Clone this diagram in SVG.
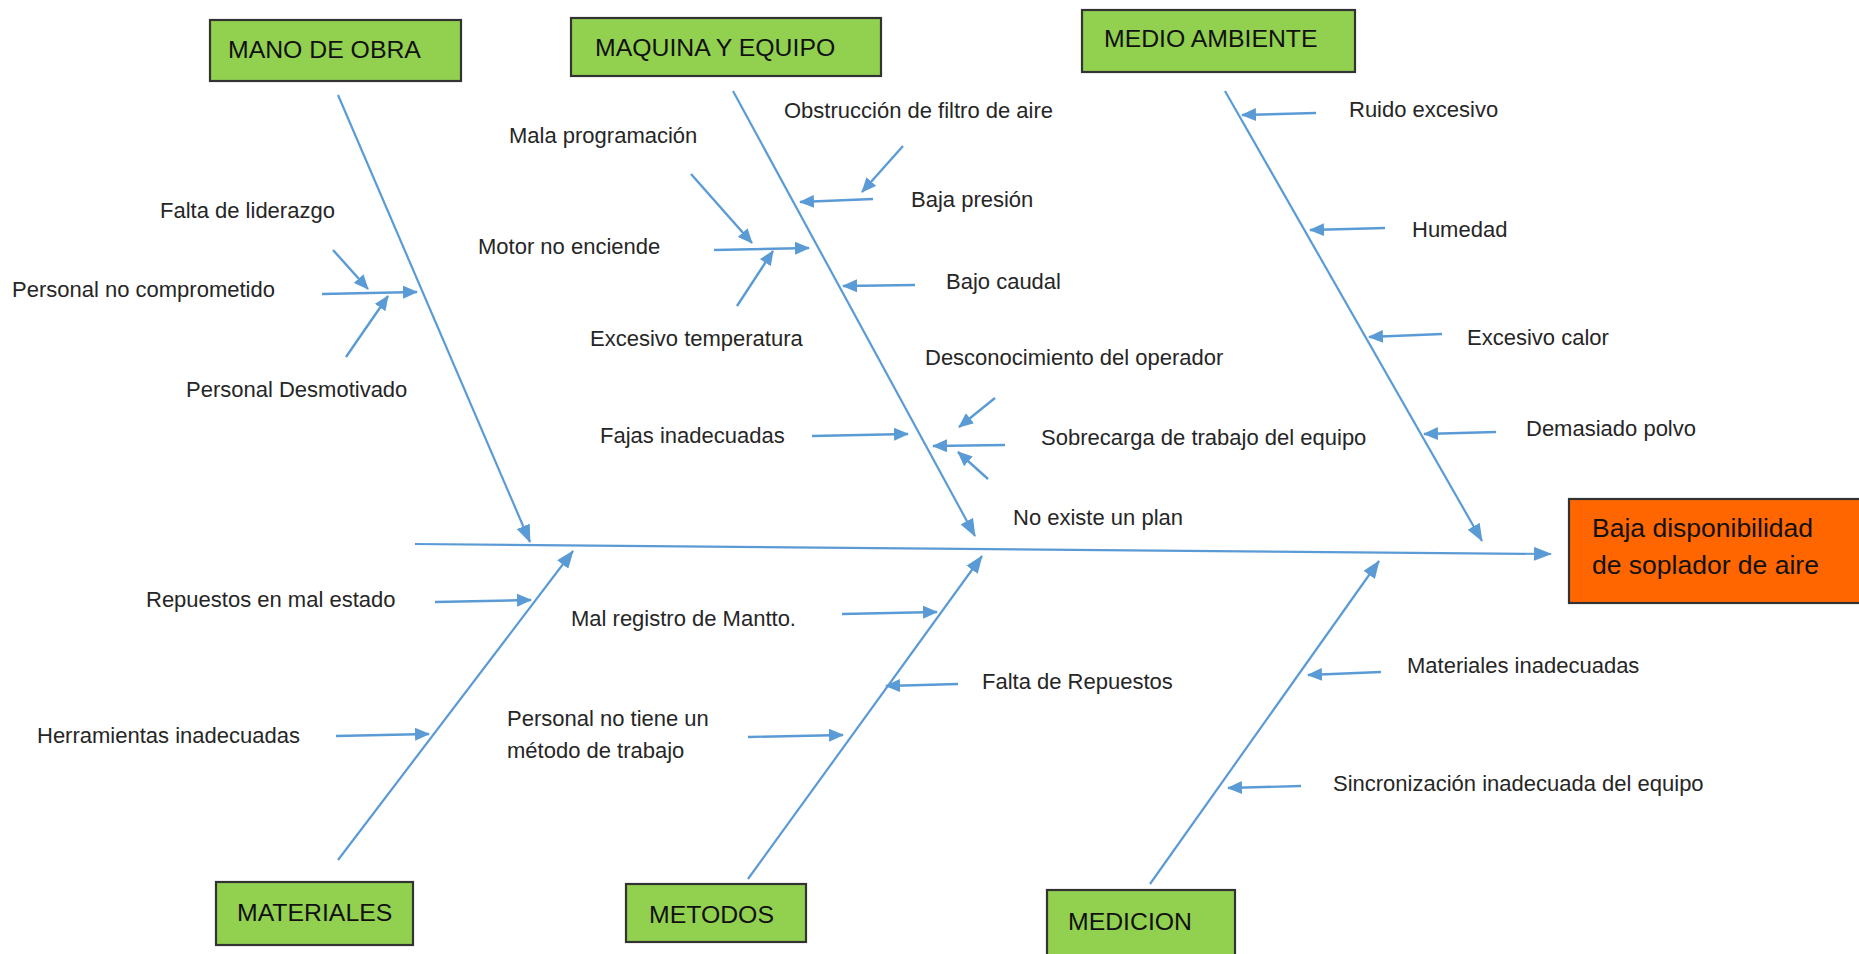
<svg xmlns="http://www.w3.org/2000/svg" width="1859" height="954" viewBox="0 0 1859 954">
<style>
.box{fill:#92D050;stroke:#333;stroke-width:2.2}
.eff{fill:#FF6600;stroke:#333;stroke-width:2.2}
.bt{font-family:"Liberation Sans",Arial,sans-serif;font-size:24.8px;fill:#111}
.et{font-family:"Liberation Sans",Arial,sans-serif;font-size:26.5px;fill:#111}
.lb{font-family:"Liberation Sans",Arial,sans-serif;font-size:22px;fill:#262626}
.bone{stroke:#5B9BD5;stroke-width:2.2;fill:none}
.sub{stroke:#5B9BD5;stroke-width:2.4;fill:none;marker-end:url(#ah)}
</style>
<defs>
<marker id="ah" markerUnits="userSpaceOnUse" markerWidth="15" markerHeight="13" refX="14" refY="6.5" orient="auto">
<path d="M0,0 L15,6.5 L0,13 z" fill="#5B9BD5"/>
</marker>
<marker id="ahb" markerUnits="userSpaceOnUse" markerWidth="18" markerHeight="14" refX="17" refY="7" orient="auto">
<path d="M0,0 L18,7 L0,14 z" fill="#5B9BD5"/>
</marker>
</defs>
<rect width="1859" height="954" fill="#fff"/>

<g id="connectors">
<line class="bone" x1="415" y1="544" x2="1551" y2="554" marker-end="url(#ahb)"/>
<line class="bone" x1="338" y1="95" x2="530" y2="542" marker-end="url(#ahb)"/>
<line class="bone" x1="733" y1="91" x2="975" y2="536" marker-end="url(#ahb)"/>
<line class="bone" x1="1225" y1="91" x2="1482" y2="541" marker-end="url(#ahb)"/>
<line class="bone" x1="338" y1="860" x2="573" y2="551" marker-end="url(#ahb)"/>
<line class="bone" x1="748" y1="879" x2="982" y2="556" marker-end="url(#ahb)"/>
<line class="bone" x1="1150" y1="884" x2="1379" y2="561" marker-end="url(#ahb)"/>

<line class="sub" x1="322" y1="294" x2="417" y2="292"/>
<line class="sub" x1="333" y1="250" x2="368" y2="289"/>
<line class="sub" x1="346" y1="357" x2="388" y2="296"/>

<line class="sub" x1="691" y1="174" x2="752" y2="243"/>
<line class="sub" x1="714" y1="250" x2="809" y2="248"/>
<line class="sub" x1="737" y1="306" x2="773" y2="251"/>
<line class="sub" x1="903" y1="146" x2="862" y2="192"/>
<line class="sub" x1="873" y1="199" x2="800" y2="202"/>
<line class="sub" x1="915" y1="285" x2="843" y2="286"/>
<line class="sub" x1="812" y1="436" x2="908" y2="434"/>
<line class="sub" x1="995" y1="398" x2="959" y2="427"/>
<line class="sub" x1="1005" y1="445" x2="933" y2="446"/>
<line class="sub" x1="988" y1="479" x2="958" y2="452"/>

<line class="sub" x1="1316" y1="113" x2="1242" y2="115"/>
<line class="sub" x1="1385" y1="228" x2="1310" y2="230"/>
<line class="sub" x1="1442" y1="334" x2="1369" y2="337"/>
<line class="sub" x1="1496" y1="432" x2="1424" y2="434"/>

<line class="sub" x1="435" y1="602" x2="531" y2="600"/>
<line class="sub" x1="336" y1="736" x2="429" y2="734"/>

<line class="sub" x1="842" y1="614" x2="937" y2="612"/>
<line class="sub" x1="958" y1="684" x2="886" y2="686"/>
<line class="sub" x1="748" y1="737" x2="843" y2="735"/>

<line class="sub" x1="1381" y1="672" x2="1308" y2="675"/>
<line class="sub" x1="1301" y1="786" x2="1228" y2="788"/>
</g>

<g id="mano-de-obra">
<rect class="box" x="210" y="20" width="251" height="61"/>
<text class="bt" x="228" y="58">MANO DE OBRA</text>
</g>
<g id="maquina-y-equipo">
<rect class="box" x="571" y="18" width="310" height="58"/>
<text class="bt" x="595" y="56">MAQUINA Y EQUIPO</text>
</g>
<g id="medio-ambiente">
<rect class="box" x="1082" y="10" width="273" height="62"/>
<text class="bt" x="1104" y="47">MEDIO AMBIENTE</text>
</g>
<g id="materiales">
<rect class="box" x="216" y="882" width="197" height="63"/>
<text class="bt" x="237" y="921">MATERIALES</text>
</g>
<g id="metodos">
<rect class="box" x="626" y="884" width="180" height="58"/>
<text class="bt" x="649" y="923">METODOS</text>
</g>
<g id="medicion">
<rect class="box" x="1047" y="890" width="188" height="80"/>
<text class="bt" x="1068" y="930">MEDICION</text>
</g>
<g id="efecto">
<rect class="eff" x="1569" y="499" width="300" height="104"/>
<text class="et" x="1592" y="537">Baja disponibilidad</text>
<text class="et" x="1592" y="574">de soplador de aire</text>
</g>

<g id="causas-mano-de-obra">
<text class="lb" x="160" y="218">Falta de liderazgo</text>
<text class="lb" x="12" y="297">Personal no comprometido</text>
<text class="lb" x="186" y="397">Personal Desmotivado</text>
</g>
<g id="causas-maquina">
<text class="lb" x="509" y="143">Mala programación</text>
<text class="lb" x="784" y="118">Obstrucción de filtro de aire</text>
<text class="lb" x="478" y="254">Motor no enciende</text>
<text class="lb" x="911" y="207">Baja presión</text>
<text class="lb" x="946" y="289">Bajo caudal</text>
<text class="lb" x="590" y="346">Excesivo temperatura</text>
<text class="lb" x="925" y="365">Desconocimiento del operador</text>
<text class="lb" x="600" y="443">Fajas inadecuadas</text>
<text class="lb" x="1041" y="445">Sobrecarga de trabajo del equipo</text>
<text class="lb" x="1013" y="525">No existe un plan</text>
</g>
<g id="causas-medio-ambiente">
<text class="lb" x="1349" y="117">Ruido excesivo</text>
<text class="lb" x="1412" y="237">Humedad</text>
<text class="lb" x="1467" y="345">Excesivo calor</text>
<text class="lb" x="1526" y="436">Demasiado polvo</text>
</g>
<g id="causas-materiales">
<text class="lb" x="146" y="607">Repuestos en mal estado</text>
<text class="lb" x="37" y="743">Herramientas inadecuadas</text>
</g>
<g id="causas-metodos">
<text class="lb" x="571" y="626">Mal registro de Mantto.</text>
<text class="lb" x="982" y="689">Falta de Repuestos</text>
<text class="lb" x="507" y="726">Personal no tiene un</text>
<text class="lb" x="507" y="758">método de trabajo</text>
</g>
<g id="causas-medicion">
<text class="lb" x="1407" y="673">Materiales inadecuadas</text>
<text class="lb" x="1333" y="791">Sincronización inadecuada del equipo</text>
</g>
</svg>
